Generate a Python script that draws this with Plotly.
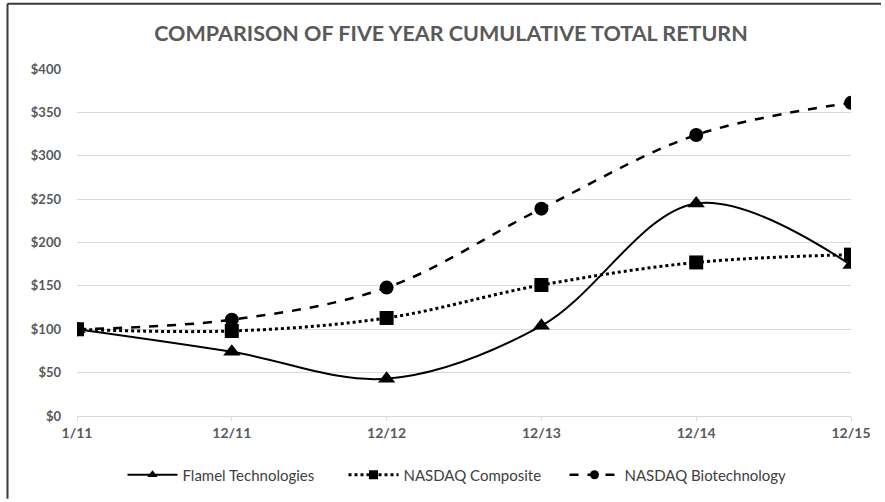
import plotly.graph_objects as go

periods = ["1/11", "12/11", "12/12", "12/13", "12/14", "12/15"]
flamel = [100, 74, 43, 104, 245, 174]
nasdaq_comp = [100, 98, 113, 151, 177, 186]
nasdaq_bio = [100, 111, 148, 239, 324, 361]
y_ticks = [0, 50, 100, 150, 200, 250, 300, 350, 400]
y_tick_text = ["$" + str(v) for v in y_ticks]
series = [
    ("Flamel Technologies", flamel, "solid", 2, "triangle-up", 15),
    ("NASDAQ Composite", nasdaq_comp, "dot", 3, "square", 14),
    ("NASDAQ Biotechnology", nasdaq_bio, "dash", 2.5, "circle", 14),
]

W, H = 885, 502
L, R, T, B = 77, 34, 69, 85

fig = go.Figure()
for name, vals, dash, lw, sym, ms in series:
    fig.add_trace(go.Scatter(
        x=periods, y=vals, name=name, mode="lines+markers", showlegend=False,
        line=dict(color="#000000", width=lw, dash=dash, shape="spline", smoothing=1),
        marker=dict(symbol=sym, size=ms, color="#000000")))
for name, vals, dash, lw, sym, ms in series:
    fig.add_trace(go.Scatter(
        x=[None], y=[None], name=name, mode="lines+markers", showlegend=True,
        line=dict(color="#000000", width=lw, dash=dash),
        marker=dict(symbol=sym, size=9, color="#000000")))

pw = W - L - R
ph = H - T - B
fig.add_shape(type="line", xref="paper", yref="paper",
              x0=(7.5 - L) / pw, x1=(W - 4 - L) / pw,
              y0=(H - B - 3.5) / ph, y1=(H - B - 3.5) / ph,
              line=dict(color="#3a3a3a", width=2))
fig.add_shape(type="line", xref="paper", yref="paper",
              x0=(7.5 - L) / pw, x1=(7.5 - L) / pw,
              y0=(H - B - 3.5) / ph, y1=(H - B - H + 2) / ph,
              line=dict(color="#3a3a3a", width=2))

fig.update_layout(
    width=W, height=H,
    margin=dict(l=L, r=R, t=T, b=B),
    paper_bgcolor="white", plot_bgcolor="white",
    font=dict(family="Lato, Open Sans, sans-serif", color="#595959"),
    title=dict(text="<b>COMPARISON OF FIVE YEAR CUMULATIVE TOTAL RETURN</b>",
               x=451 / W, xanchor="center", y=1 - 33 / H, yanchor="middle",
               font=dict(size=21.5, color="#595959")),
    showlegend=True,
    legend=dict(orientation="h", x=(454 - L) / pw, xanchor="center",
                y=-(475 - (H - B)) / ph, yanchor="middle",
                font=dict(size=15, color="#404040"), itemwidth=50,
                entrywidth=156, entrywidthmode="pixels",
                tracegroupgap=0, bgcolor="rgba(0,0,0,0)"),
    xaxis=dict(type="category", range=[0, 5], showgrid=False,
               showline=True, linecolor="#d9d9d9", linewidth=1,
               ticks="outside", ticklen=4, tickcolor="#d9d9d9",
               tickfont=dict(size=14, color="#595959", family="Lato, sans-serif", weight="bold"),
               zeroline=False),
    yaxis=dict(range=[0, 400], tickvals=y_ticks, ticktext=y_tick_text,
               showgrid=True, gridcolor="#d9d9d9", gridwidth=1,
               zeroline=False, showline=False, ticks="",
               ticklabelstandoff=15,
               tickfont=dict(size=13, color="#595959", weight="bold")),
)
fig.write_html("out.html")
